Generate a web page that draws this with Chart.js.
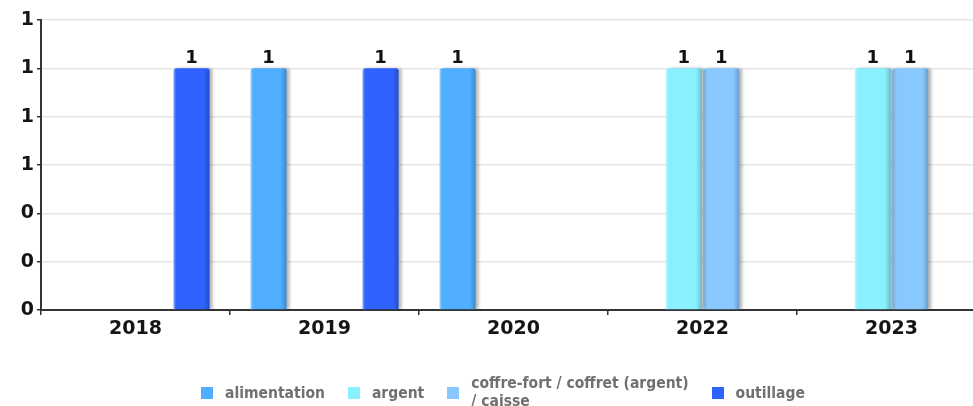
<!DOCTYPE html>
<html>
<head>
<meta charset="utf-8">
<script src="https://cdn.jsdelivr.net/npm/chart.js@4.4.1/dist/chart.umd.min.js"></script>
<style>
  html, body { margin: 0; padding: 0; background: #fff; overflow: hidden; }
  #cadre { position: absolute; left: 0; top: 0; width: 1006px; height: 406px; }
  #legende {
    position: absolute; left: 0; width: 1006px; top: 375px;
    display: flex; justify-content: center; align-items: center; gap: 23px;
    font-family: "DejaVu Sans Condensed", "Liberation Sans Narrow", "DejaVu Sans", sans-serif;
    font-weight: bold; font-size: 15.5px; color: #707070;
  }
  .item { display: flex; align-items: center; }
  .carre { width: 12px; height: 12px; margin-right: 12px; flex: none; }
  .texte { line-height: 18px; white-space: nowrap; }
</style>
</head>
<body>
<div id="cadre"><canvas id="grafico"></canvas></div>
<div id="legende"></div>
<script>
// donnees
const annees = ['2018', '2019', '2020', '2022', '2023']
const alimentation = [null, 1, 1, null, null]
const argent = [null, null, null, 1, 1]
const coffre = [null, null, null, 1, 1]
const outillage = [1, 1, null, null, null]

const nomsSeries = ['alimentation', 'argent', 'coffre-fort / coffret (argent) / caisse', 'outillage']
const couleurs = ['#4faeff', '#88f0ff', '#88c8ff', '#2f62ff']
const valeurs = [alimentation, argent, coffre, outillage]

const fonteTicks = { family: 'DejaVu Sans', weight: 'bold', size: 19 }

function eclaircir(hex, f) {
  const n = parseInt(hex.slice(1), 16)
  let r = n >> 16, g = (n >> 8) & 255, b = n & 255
  r = Math.round(r + (255 - r) * f); g = Math.round(g + (255 - g) * f); b = Math.round(b + (255 - b) * f)
  return `rgb(${r},${g},${b})`
}
function assombrir(hex, f) {
  const n = parseInt(hex.slice(1), 16)
  let r = n >> 16, g = (n >> 8) & 255, b = n & 255
  return `rgb(${Math.round(r * f)},${Math.round(g * f)},${Math.round(b * f)})`
}

// degrade horizontal + ombre portee pour l'effet 3D des barres
const effetBarres = {
  id: 'effetBarres',
  beforeDatasetsDraw(chart) {
    const ctx = chart.ctx
    chart.data.datasets.forEach((ds, i) => {
      const meta = chart.getDatasetMeta(i)
      meta.data.forEach((barre, j) => {
        if (ds.data[j] == null) return
        const g = ctx.createLinearGradient(barre.x - barre.width / 2, 0, barre.x + barre.width / 2, 0)
        const c = couleurs[i]
        g.addColorStop(0, eclaircir(c, 0.5))
        g.addColorStop(0.07, c)
        g.addColorStop(0.84, c)
        g.addColorStop(1, assombrir(c, 0.78))
        // options partagees entre les barres : on copie avant de modifier
        barre.options = Object.assign({}, barre.options, { backgroundColor: g })
      })
    })
    ctx.save()
    ctx.shadowColor = 'rgba(0,0,0,0.28)'
    ctx.shadowOffsetX = 3
    ctx.shadowOffsetY = 0
    ctx.shadowBlur = 3
  },
  afterDatasetsDraw(chart) {
    const ctx = chart.ctx
    ctx.restore()
    // etiquettes de valeur au-dessus des barres
    ctx.save()
    ctx.font = 'bold 18px "DejaVu Sans"'
    ctx.fillStyle = '#111'
    ctx.textAlign = 'center'
    ctx.textBaseline = 'bottom'
    chart.data.datasets.forEach((ds, i) => {
      chart.getDatasetMeta(i).data.forEach((barre, j) => {
        const v = ds.data[j]
        if (v == null) return
        ctx.fillText(String(v), barre.x, barre.y - 1)
      })
    })
    ctx.restore()
  }
}

const grafico = new Chart(document.querySelector('#grafico').getContext('2d'), {
  type: 'bar',
  data: {
    labels: annees,
    datasets: nomsSeries.map((nom, i) => ({
      label: nom,
      data: valeurs[i],
      backgroundColor: couleurs[i],
      borderWidth: 0,
      borderRadius: { topLeft: 3, topRight: 3 },
      borderSkipped: 'start',
      barPercentage: 0.97,
      categoryPercentage: 0.79
    }))
  },
  options: {
    responsive: true,
    maintainAspectRatio: false,
    animation: false,
    layout: { padding: { top: 20, right: 20, left: 0, bottom: 0 } },
    plugins: { legend: { display: false }, tooltip: { enabled: false } },
    scales: {
      x: {
        grid: { offset: true, drawOnChartArea: false, drawTicks: true, tickLength: 5, tickColor: '#333', lineWidth: 1.5 },
        border: { color: '#333', width: 2 },
        ticks: { font: fonteTicks, color: '#151515', padding: 3 },
        afterFit(s) { s.height = 96 }
      },
      y: {
        min: 0,
        max: 1.2,
        ticks: {
          stepSize: 0.2,
          font: fonteTicks,
          color: '#151515',
          padding: 3,
          callback: v => String(Math.round(v))
        },
        grid: { color: '#e6e6e6', lineWidth: 1.5, tickLength: 4, tickColor: '#333' },
        border: { color: '#333', width: 2 },
        afterFit(s) { s.width = 41 }
      }
    }
  },
  plugins: [effetBarres]
})

// legende en HTML (le libelle long passe sur deux lignes, coupe avant "/ caisse")
const legende = document.querySelector('#legende')
nomsSeries.forEach((nom, i) => {
  const item = document.createElement('div')
  item.className = 'item'
  const carre = document.createElement('span')
  carre.className = 'carre'
  carre.style.background = couleurs[i]
  const texte = document.createElement('span')
  texte.className = 'texte'
  const coupe = nom.indexOf(' / caisse')
  if (coupe > 0) {
    texte.appendChild(document.createTextNode(nom.slice(0, coupe)))
    texte.appendChild(document.createElement('br'))
    texte.appendChild(document.createTextNode(nom.slice(coupe + 1)))
    texte.style.marginTop = '-1px'
  } else {
    texte.textContent = nom
  }
  item.appendChild(carre)
  item.appendChild(texte)
  legende.appendChild(item)
})
</script>
</body>
</html>
